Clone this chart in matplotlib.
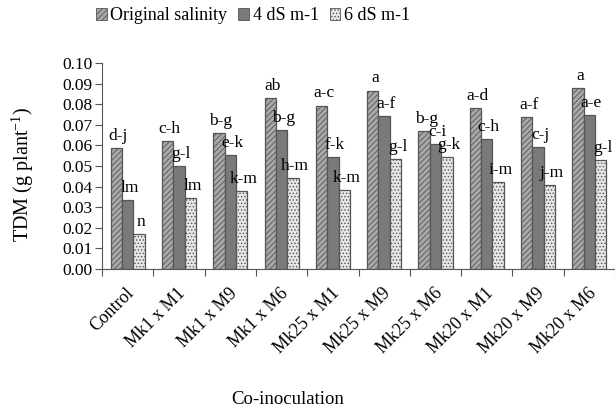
import numpy as np
import matplotlib
matplotlib.use('Agg')
import matplotlib.pyplot as plt
import matplotlib.transforms as mtransforms
from matplotlib.patches import Patch

plt.rcParams['font.family'] = ['Liberation Serif', 'DejaVu Serif']
plt.rcParams['hatch.linewidth'] = 0.6

# Data
groups = ['Control', 'Mk1 x M1', 'Mk1 x M9', 'Mk1 x M6', 'Mk25 x M1', 'Mk25 x M9',
          'Mk25 x M6', 'Mk20 x M1', 'Mk20 x M9', 'Mk20 x M6']
series = ['Original salinity', '4 dS m-1', '6 dS m-1']
original = [0.0589, 0.0621, 0.0660, 0.0832, 0.0794, 0.0867, 0.0670, 0.0782, 0.0736, 0.0879]
ds4 = [0.0336, 0.0502, 0.0553, 0.0673, 0.0545, 0.0741, 0.0607, 0.0631, 0.0594, 0.0746]
ds6 = [0.0170, 0.0346, 0.0377, 0.0443, 0.0383, 0.0532, 0.0545, 0.0422, 0.0408, 0.0528]
lab_orig = ['d-j', 'c-h', 'b-g', 'ab', 'a-c', 'a', 'b-g', 'a-d', 'a-f', 'a']
lab_ds4 = ['lm', 'g-l', 'e-k', 'b-g', 'f-k', 'a-f', 'c-i', 'c-h', 'c-j', 'a-e']
lab_ds6 = ['n', 'lm', 'k-m', 'h-m', 'k-m', 'g-l', 'g-k', 'i-m', 'j-m', 'g-l']

fig = plt.figure(figsize=(6.15, 4.13), dpi=100)
ax = fig.add_axes([0.166, 0.349, 0.834, 0.498])

x = np.arange(len(groups))
w = 0.222
styles = [
    dict(facecolor='#a8a8a8', edgecolor='#555555', hatch='//////'),
    dict(facecolor='#7a7a7a', edgecolor='#555555', hatch=None),
    dict(facecolor='#e6e6e6', edgecolor='#555555', hatch='.....'),
]
data = [original, ds4, ds6]
labels = [lab_orig, lab_ds4, lab_ds6]
offsets = [-w, 0, w]

for vals, labs, off, st in zip(data, labels, offsets, styles):
    bars = ax.bar(x + off, vals, w, linewidth=0.9, **st)
    for b in bars:
        b.set_edgecolor('#555555')
    for xi, v, t in zip(x + off, vals, labs):
        ax.text(xi + 0.04, v + 0.002, t, ha='center', va='bottom', fontsize=12.5)

ax.set_ylim(0, 0.10)
ax.set_xlim(-0.5, len(groups) - 0.5)
ax.set_yticks(np.arange(0, 0.101, 0.01))
ax.yaxis.set_major_formatter(matplotlib.ticker.FormatStrFormatter('%.2f'))
ax.tick_params(axis='y', labelsize=12.5, length=5, direction='out', color='#555555', pad=2)

ax.set_xticks(np.arange(-0.5, len(groups), 1.0))
ax.set_xticklabels([])
ax.set_xticks(x, minor=True)
ax.set_xticklabels(groups, minor=True, rotation=45, ha='right', va='center',
                   rotation_mode='anchor', fontsize=12.8)
ax.tick_params(axis='x', which='major', length=5, direction='out', color='#555555')
ax.tick_params(axis='x', which='minor', length=0)
shift = mtransforms.ScaledTranslation(0.04, -0.17, fig.dpi_scale_trans)
for lbl in ax.get_xticklabels(minor=True):
    lbl.set_transform(lbl.get_transform() + shift)

for s in ['top', 'right']:
    ax.spines[s].set_visible(False)
for s in ['left', 'bottom']:
    ax.spines[s].set_color('#555555')

ax.set_ylabel('TDM (g plant$^{\\mathregular{-1}}$)', fontsize=14.5)
ax.yaxis.set_label_coords(-0.128, 0.46)
fig.text(288 / 615, 1 - 400 / 413, 'Co-inoculation', ha='center', va='center', fontsize=13.5)

handles = [Patch(label=n, linewidth=0.6, **st) for n, st in zip(series, styles)]
fig.legend(handles=handles, loc='center', bbox_to_anchor=(253 / 615, 1 - 16 / 413),
           ncol=3, frameon=False, fontsize=13, handlelength=0.6, handleheight=0.6,
           handletextpad=0.2, columnspacing=0.6)

fig.savefig('out.png', dpi=100)
